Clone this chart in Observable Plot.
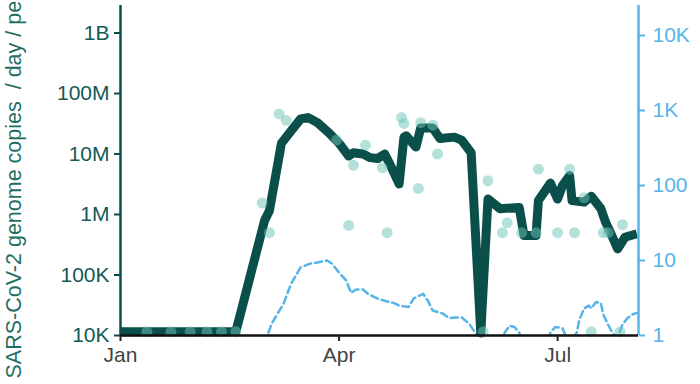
<!DOCTYPE html>
<html>
<head>
<meta charset="utf-8">
<script src="https://cdn.jsdelivr.net/npm/d3@7"></script>
<script src="https://cdn.jsdelivr.net/npm/@observablehq/plot@0.6"></script>
<style>
  html, body { margin: 0; padding: 0; background: #fff; overflow: hidden; }
</style>
</head>
<body>
<div id="chart"></div>
<script>
// Main (thick) series: genome copies / day / person (left axis)
const mainDates = ["2020-01-01","2020-02-18","2020-03-01","2020-03-03","2020-03-08","2020-03-12","2020-03-16","2020-03-19","2020-03-23","2020-03-28","2020-04-01","2020-04-05","2020-04-07","2020-04-11","2020-04-14","2020-04-17","2020-04-20","2020-04-22","2020-04-26","2020-04-28","2020-04-29","2020-05-03","2020-05-05","2020-05-10","2020-05-13","2020-05-19","2020-05-22","2020-05-26","2020-05-30","2020-06-02","2020-06-07","2020-06-15","2020-06-17","2020-06-22","2020-06-23","2020-06-28","2020-07-01","2020-07-03","2020-07-06","2020-07-07","2020-07-12","2020-07-15","2020-07-19","2020-07-21","2020-07-23","2020-07-26","2020-07-29","2020-08-03"];
const mainValues = [1.15e4,1.15e4,8e5,1.15e6,1.5e7,2.4e7,3.8e7,4e7,3.3e7,2.2e7,1.5e7,9.3e6,1.05e7,1e7,8.7e6,8.4e6,1e7,7e6,3.2e6,1.9e7,2e7,1.3e7,2.7e7,2.7e7,1.8e7,1.9e7,1.7e7,1.05e7,1.1e4,1.8e6,1.25e6,1.3e6,4.5e5,4.5e5,1.7e6,3.3e6,1.8e6,3e6,4.4e6,1.7e6,1.6e6,2e6,1.25e6,7.4e5,5e5,2.7e5,4.2e5,4.8e5];

// Individual samples (left axis)
const sampleDates = ["2020-01-12","2020-01-22","2020-01-30","2020-02-06","2020-02-12","2020-02-18","2020-02-29","2020-03-03","2020-03-07","2020-03-10","2020-03-31","2020-04-05","2020-04-07","2020-04-12","2020-04-19","2020-04-21","2020-04-27","2020-04-28","2020-05-04","2020-05-05","2020-05-10","2020-05-12","2020-05-31","2020-06-02","2020-06-08","2020-06-10","2020-06-16","2020-06-22","2020-06-23","2020-07-01","2020-07-06","2020-07-08","2020-07-12","2020-07-15","2020-07-20","2020-07-22","2020-07-27","2020-07-28"];
const sampleValues = [1.15e4,1.15e4,1.15e4,1.15e4,1.15e4,1.15e4,1.55e6,5e5,4.6e7,3.6e7,1.7e7,6.6e5,6.5e6,1.4e7,5.9e6,5e5,4e7,3.2e7,2.7e6,3.3e7,3e7,1e7,1.15e4,3.6e6,5e5,7.3e5,5e5,5e5,5.6e6,5e5,5.6e6,5e5,1.9e6,1.15e4,5e5,5e5,1.15e4,6.8e5];

// Dashed series (right axis)
const dashDates = ["2020-03-01","2020-03-04","2020-03-09","2020-03-12","2020-03-16","2020-03-20","2020-03-23","2020-03-27","2020-03-29","2020-04-01","2020-04-04","2020-04-06","2020-04-08","2020-04-11","2020-04-13","2020-04-17","2020-04-20","2020-04-24","2020-04-26","2020-04-30","2020-05-02","2020-05-06","2020-05-08","2020-05-10","2020-05-14","2020-05-17","2020-05-20","2020-05-22","2020-05-25","2020-05-28","2020-05-30","2020-06-06","2020-06-09","2020-06-11","2020-06-13","2020-06-15","2020-06-17","2020-06-26","2020-06-28","2020-06-30","2020-07-03","2020-07-04","2020-07-06","2020-07-09","2020-07-10","2020-07-12","2020-07-14","2020-07-15","2020-07-17","2020-07-19","2020-07-20","2020-07-22","2020-07-24","2020-07-26","2020-07-28","2020-07-30","2020-08-01","2020-08-03"];
const dashValues = [0.8,1.45,2.7,4.9,8.1,9.1,9.4,10,9.1,6.9,5.4,3.7,4.1,4.1,3.6,3.1,2.9,2.7,2.5,2.4,3.1,3.6,2.9,2.15,1.97,1.7,1.74,1.74,1.45,1.06,0.6,0.6,1.1,1.35,1.3,1.1,0.6,0.6,1.1,1.3,1.25,1.05,0.8,1.1,1.6,2.3,2.5,2.3,2.8,2.7,1.9,1.4,1.05,0.95,1.4,1.7,1.9,2.0];

// Tick labels
const leftTicks = [1e4, 1e5, 1e6, 1e7, 1e8, 1e9];
const leftLabels = ["10K", "100K", "1M", "10M", "100M", "1B"];
const rightTicks = [1, 10, 100, 1000, 10000];
const rightLabels = ["1", "10", "100", "1K", "10K"];
const xTicks = ["2020-01-01", "2020-04-01", "2020-07-01"];
const xLabels = ["Jan", "Apr", "Jul"];
const yLabel = "SARS-CoV-2 genome copies  / day / person";

const parse = d3.utcParse("%Y-%m-%d");
const main = mainDates.map((d, i) => ({date: parse(d), value: mainValues[i]}));
const samples = sampleDates.map((d, i) => ({date: parse(d), value: sampleValues[i]}));
// map right-axis values onto the left log scale (right: 75px/decade, left: 60.5px/decade)
const k = 75 / 60.5;
const toLeft = r => Math.pow(10, 4 + k * Math.log10(r));
const dashed = dashDates.map((d, i) => ({date: parse(d), value: toLeft(dashValues[i])}));
const rightAxis = rightTicks.map((t, i) => ({pos: toLeft(t), label: rightLabels[i]}));
const nearest = (arr, v) => {
  let best = 0;
  arr.forEach((a, i) => { if (Math.abs(Math.log10(a) - Math.log10(v)) < Math.abs(Math.log10(arr[best]) - Math.log10(v))) best = i; });
  return best;
};

const teal = "#0b4f4b";
const tealText = "#125a54";
const blue = "#56b4e9";
const x0 = parse("2020-01-01");
const x1 = new Date(Date.UTC(2020, 7, 3, 16));
const yTop = Math.pow(10, 4 + 330 / 60.5);
const xTickDates = xTicks.map(parse);

const chart = Plot.plot({
  width: 700,
  height: 384,
  marginTop: 5,
  marginBottom: 49,
  marginLeft: 120,
  marginRight: 62,
  style: {fontFamily: "'Liberation Sans', Arial, sans-serif", fontSize: "21px", background: "#fff"},
  x: {type: "utc", domain: [x0, x1]},
  y: {type: "log", domain: [1e4, yTop]},
  marks: [
    Plot.line(dashed, {x: "date", y: "value", stroke: blue, strokeWidth: 2.5, strokeDasharray: "7,4", clip: true}),
    Plot.line(main, {x: "date", y: "value", stroke: teal, strokeWidth: 9, strokeLinejoin: "round", strokeLinecap: "butt"}),
    Plot.dot(samples, {x: "date", y: "value", r: 5.5, fill: "#6cc3b8", fillOpacity: 0.5, stroke: "none"}),
    Plot.ruleX([x0], {stroke: teal, strokeWidth: 2.5}),
    Plot.ruleX([x1], {stroke: blue, strokeWidth: 2.5}),
    Plot.ruleY([1e4], {stroke: "#111", strokeWidth: 2.5}),
    Plot.axisY(leftTicks, {anchor: "left", tickSize: 6, tickPadding: 5, stroke: teal, fill: tealText, strokeWidth: 2,
      tickFormat: d => leftLabels[nearest(leftTicks, d)], label: null}),
    Plot.axisY(rightAxis.map(d => d.pos), {anchor: "right", tickSize: 6, stroke: blue, fill: "none", strokeWidth: 2,
      tickFormat: () => "", label: null}),
    Plot.text(rightAxis, {y: "pos", text: "label", frameAnchor: "right", dx: 14, textAnchor: "start", lineAnchor: "middle", fill: blue, fontSize: 21}),
    Plot.axisX(xTickDates, {anchor: "bottom", tickSize: 6, tickPadding: 6, stroke: "#222", fill: "#444", strokeWidth: 2,
      tickFormat: d => xLabels[xTickDates.findIndex(t => +t === +d)], label: null}),
    Plot.text([yLabel], {frameAnchor: "bottom-left", dx: -106, dy: 43, rotate: -90, textAnchor: "start", lineAnchor: "middle", fill: "#1f6f63", fontSize: 21.5})
  ]
});
document.getElementById("chart").appendChild(chart);
</script>
</body>
</html>
